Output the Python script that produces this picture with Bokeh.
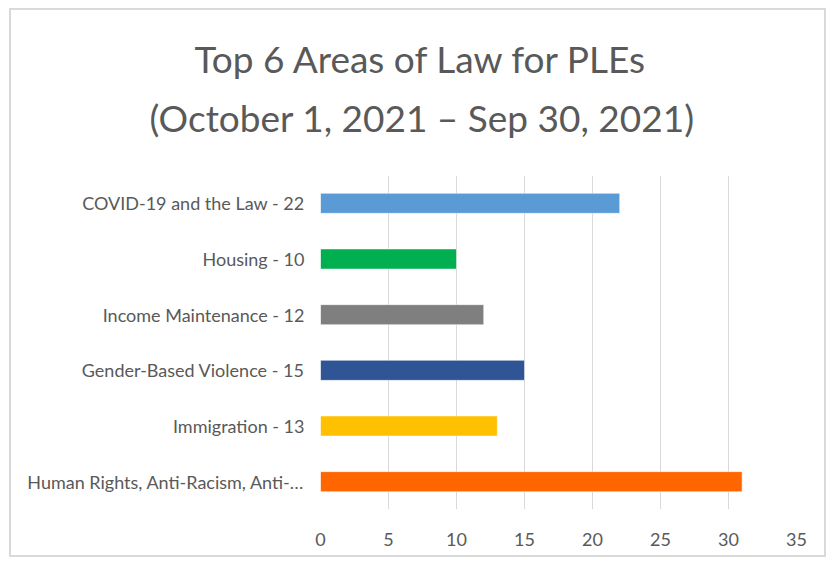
from bokeh.plotting import figure
from bokeh.models import Range1d, FactorRange, Title, ColumnDataSource
from bokeh.embed import file_html
from bokeh.resources import INLINE

categories = [
    "Human Rights, Anti-Racism, Anti-…",
    "Immigration - 13",
    "Gender-Based Violence - 15",
    "Income Maintenance - 12",
    "Housing - 10",
    "COVID-19 and the Law - 22",
]
values = [31, 13, 15, 12, 10, 22]
colors = ["#FF6600", "#FFC000", "#2F5597", "#7F7F7F", "#00B050", "#5B9BD5"]
x_ticks = [0, 5, 10, 15, 20, 25, 30, 35]
title_lines = ["Top 6 Areas of Law for PLEs", "(October 1, 2021 \u2013 Sep 30, 2021)"]

FONT = "Lato"
GRAY = "#595959"

src = ColumnDataSource(dict(cat=categories, val=values, color=colors))

p = figure(
    width=817, height=549,
    x_range=Range1d(0, 35), y_range=FactorRange(*categories),
    output_backend="svg", toolbar_location=None,
    min_border_left=309, min_border_right=32, min_border_top=165, min_border_bottom=50,
)
p.styles = {"border": "2px solid #d9d9d9", "margin-left": "9px", "margin-top": "8px"}
p.outline_line_color = None
p.background_fill_color = "white"
p.border_fill_color = "white"

p.hbar(y="cat", right="val", left=0, height=0.36, color="color",
       line_color="white", line_width=0.5, source=src)

p.xaxis.ticker = x_ticks
p.xaxis.axis_line_color = None
p.xaxis.major_tick_line_color = None
p.xaxis.minor_tick_line_color = None
p.xaxis.major_tick_out = 0
p.xaxis.major_tick_in = 0
p.xaxis.major_label_text_font = FONT
p.xaxis.major_label_text_font_size = "18px"
p.xaxis.major_label_text_color = GRAY
p.xaxis.major_label_standoff = 23

p.yaxis.axis_line_color = None
p.yaxis.major_tick_line_color = None
p.yaxis.minor_tick_line_color = None
p.yaxis.major_tick_out = 0
p.yaxis.major_tick_in = 0
p.yaxis.major_label_text_font = FONT
p.yaxis.major_label_text_font_size = "18px"
p.yaxis.major_label_text_color = GRAY
p.yaxis.major_label_standoff = 16

p.xgrid.grid_line_color = "#d9d9d9"
p.xgrid.grid_line_width = 1
p.ygrid.grid_line_color = None

# first title line (outermost)
p.title.text = title_lines[0]
p.title.align = "left"
p.title.offset = -126
p.title.text_font = FONT
p.title.text_font_size = "37px"
p.title.text_font_style = "normal"
p.title.text_color = GRAY
p.title.standoff = 24

# second title line (closest to the plot); trailing empty line lifts it
p.add_layout(Title(text=title_lines[1] + "\n", align="left", offset=-171, text_font=FONT,
                   text_font_size="37px", text_font_style="normal", text_color=GRAY,
                   text_line_height=0.8, standoff=0), "above")

open("out.html", "w").write(file_html(p, INLINE))
